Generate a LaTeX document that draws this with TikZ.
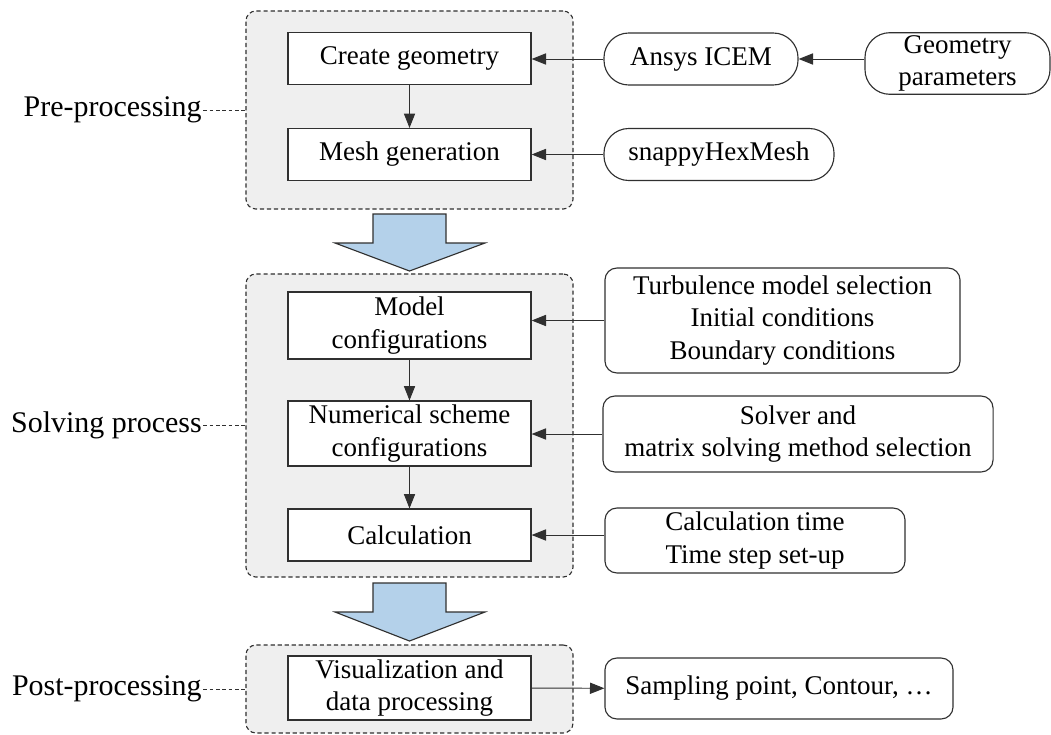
\documentclass[tikz,border=0pt]{standalone}
\usepackage{fontspec}
\setmainfont{Liberation Serif}
\usetikzlibrary{arrows.meta,positioning}
\definecolor{groupgray}{HTML}{EFEFEF}
\definecolor{arrowblue}{HTML}{B4D1EA}
\definecolor{linegray}{HTML}{303030}

\begin{document}
\begin{tikzpicture}[x=0.025cm, y=-0.025cm,
        group/.style={draw=linegray, dash pattern=on 3pt off 2pt, fill=groupgray, rounded corners=0.25cm, line width=0.8pt, minimum width=8.175cm},
        task/.style={draw=linegray, fill=white, line width=0.8pt, minimum width=6.075cm, align=center, inner sep=2pt, font=\fontsize{19.2}{23}\selectfont},
        tool/.style={draw=linegray, fill=white, line width=0.8pt, rounded corners=0.3cm, align=center, inner sep=2pt, font=\fontsize{19.2}{23}\selectfont},
        pill/.style={tool, rounded corners=0.62cm},
        phase/.style={inner sep=1pt, font=\fontsize{21.3}{25}\selectfont},
        link/.style={draw=linegray, line width=0.7pt, -{Triangle[length=3.6mm,width=2.8mm]}},
        flow/.style={draw=linegray, fill=arrowblue, line width=0.8pt}]
        \useasboundingbox (0,0) rectangle (1051,735);

        % stages
        \node[group, minimum height=4.95cm] (pre) at (409.5,110) {};
        \node[group, minimum height=7.575cm] (solve) at (409.5,425.5) {};
        \node[group, minimum height=2.2cm] (post) at (409.5,689) {};

        \node[phase, left=1.05cm of pre.west] (lpre) {Pre-processing};
        \node[phase, left=1.05cm of solve.west] (lsolve) {Solving process};
        \node[phase, left=1.05cm of post.west] (lpost) {Post-processing};
        \draw[linegray, dash pattern=on 2.5pt off 2pt] (lpre) -- (pre);
        \draw[linegray, dash pattern=on 2.5pt off 2pt] (lsolve) -- (solve);
        \draw[linegray, dash pattern=on 2.5pt off 2pt] (lpost) -- (post);

        % big arrows between stages
        \draw[flow] (373,214) -- (446,214) -- (446,243) -- (485,243) -- (409.5,271) -- (335,243) -- (373,243) -- cycle;
        \draw[flow] (373,583) -- (446,583) -- (446,612) -- (485,612) -- (409.5,641) -- (335,612) -- (373,612) -- cycle;

        % steps
        \node[task, minimum height=1.3cm] (geom) at (409.5,58.5) {Create geometry};
        \node[task, minimum height=1.3cm] (mesh) at (409.5,154.5) {Mesh generation};
        \node[task, minimum height=1.675cm] (model) at (409.5,325.5) {Model\\configurations};
        \node[task, minimum height=1.625cm] (numer) at (409.5,433.5) {Numerical scheme\\configurations};
        \node[task, minimum height=1.3cm] (calc) at (409.5,535) {Calculation};
        \node[task, minimum height=1.6cm] (visu) at (409.5,688) {Visualization and\\data processing};

        % inputs and outputs
        \node[pill, minimum width=4.85cm, minimum height=1.3cm] (icem) at (701,59) {Ansys ICEM};
        \node[pill, minimum width=4.625cm, minimum height=1.525cm] (geopar) at (957.5,63.5) {Geometry\\parameters};
        \node[pill, minimum width=5.75cm, minimum height=1.3cm] (snappy) at (719,154.5) {snappyHexMesh};
        \node[tool, minimum width=8.875cm, minimum height=2.625cm] (turb) at (782.5,320.5) {Turbulence model selection\\Initial conditions\\Boundary conditions};
        \node[tool, minimum width=9.75cm, minimum height=1.9cm] (solver) at (798,434) {Solver and\\matrix solving method selection};
        \node[tool, minimum width=7.5cm, minimum height=1.625cm] (ctime) at (755,540.5) {Calculation time\\Time step set-up};
        \node[tool, minimum width=8.7cm, minimum height=1.525cm] (sampl) at (779,688.5) {Sampling point, Contour, …};

        \draw[link] (geom) -- (mesh);
        \draw[link] (model) -- (numer);
        \draw[link] (numer) -- (calc);
        \draw[link] (icem.west) -- (icem.west -| geom.east);
        \draw[link] (geopar.west |- icem) -- (icem.east);
        \draw[link] (snappy) -- (mesh);
        \draw[link] (turb.west) -- (turb.west -| model.east);
        \draw[link] (solver.west) -- (solver.west -| numer.east);
        \draw[link] (ctime.west |- calc) -- (calc.east);
        \draw[link] (visu) -- (sampl);

    \end{tikzpicture}
\end{document}
